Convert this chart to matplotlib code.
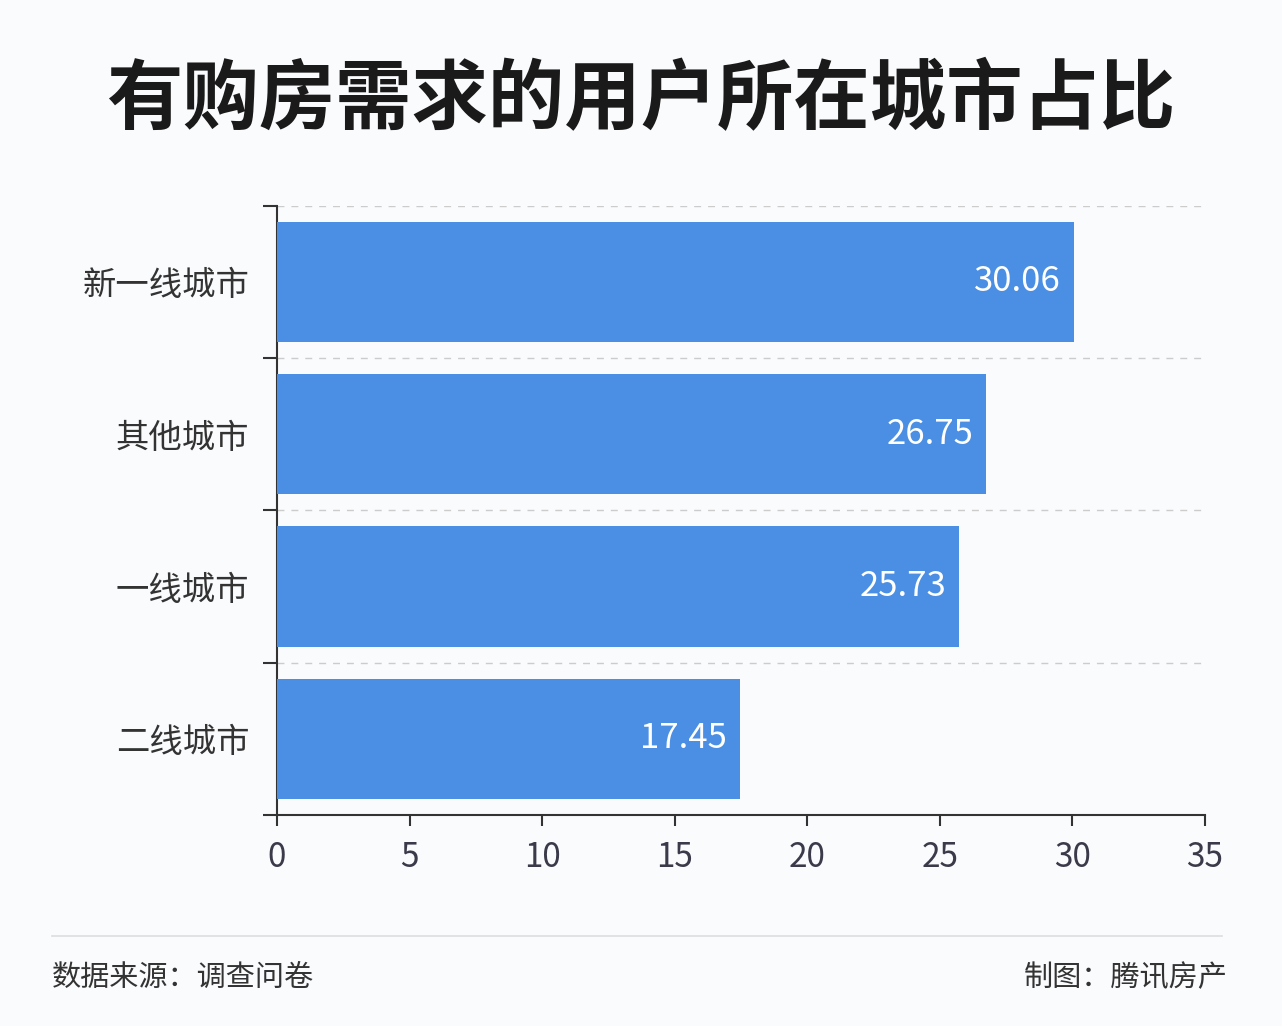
import matplotlib
matplotlib.use("Agg")
import matplotlib.pyplot as plt

plt.rcParams['font.family'] = ['Noto Sans CJK SC', 'DejaVu Sans']

categories = ["新一线城市", "其他城市", "一线城市", "二线城市"]
values = [30.06, 26.75, 25.73, 17.45]
xticks = [0, 5, 10, 15, 20, 25, 30, 35]

bg = "#FAFBFD"
fig = plt.figure(figsize=(12.82, 10.26), dpi=100, facecolor=bg)
ax = fig.add_axes([0.216, 0.2057, 0.724, 0.594], facecolor=bg)

y = list(range(len(categories)))
ax.barh(y, values, height=0.79, color="#4A8FE3", zorder=3)
for yi, v in zip(y, values):
    ax.text(v - 0.5, yi, f"{v:.2f}", ha="right", va="center", color="white", fontsize=25, zorder=4)

ax.set_xlim(0, 35)
ax.set_ylim(3.5, -0.5)
ax.set_xticks(xticks)
ax.set_xticklabels([str(t) for t in xticks], fontsize=24, color="#3a3a4a")
bounds = [-0.5, 0.5, 1.5, 2.5, 3.5]
ax.set_yticks(bounds)
ax.set_yticklabels([])
ax.set_yticks(y, minor=True)
ax.set_yticklabels(categories, minor=True, fontsize=24, color="#333333")
ax.tick_params(axis="y", which="minor", length=0, pad=20)
ax.tick_params(axis="y", which="major", length=10, width=1.5, color="#333333")
ax.tick_params(axis="x", length=8, width=1.5, color="#333333", pad=10)
for b in bounds[:-1]:
    ax.axhline(b, color="#cccccc", linestyle=(0, (5, 5)), linewidth=1, zorder=1)
ax.spines["top"].set_visible(False)
ax.spines["right"].set_visible(False)
ax.spines["left"].set_linewidth(1.5)
ax.spines["bottom"].set_linewidth(1.5)
ax.spines["left"].set_color("#333333")
ax.spines["bottom"].set_color("#333333")

fig.text(0.5, 0.902, "有购房需求的用户所在城市占比", ha="center", va="center",
         fontsize=55, fontweight="bold", color="#1a1a1a")
fig.add_artist(plt.Line2D([52/1282, 1222/1282], [1-936/1026]*2, color="#dddddd", linewidth=1.2))
fig.text(52/1282, 1-978/1026, "数据来源：调查问卷", ha="left", va="center", fontsize=21, color="#333333")
fig.text(1228/1282, 1-978/1026, "制图：腾讯房产", ha="right", va="center", fontsize=21, color="#333333")

fig.savefig("out.png", dpi=100, facecolor=bg)
